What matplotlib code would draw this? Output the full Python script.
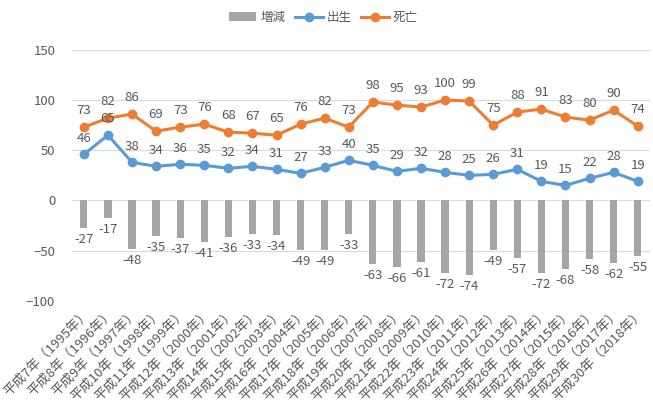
import numpy as np
import matplotlib
matplotlib.use("Agg")
import matplotlib.pyplot as plt

plt.rcParams['font.family'] = ['Noto Sans CJK JP', 'DejaVu Sans']

heisei = list(range(7, 31))
years = list(range(1995, 2019))
categories = [f"平成{h}年（{y}年）" for h, y in zip(heisei, years)]

births = [46, 65, 38, 34, 36, 35, 32, 34, 31, 27, 33, 40,
          35, 29, 32, 28, 25, 26, 31, 19, 15, 22, 28, 19]
deaths = [73, 82, 86, 69, 73, 76, 68, 67, 65, 76, 82, 73,
          98, 95, 93, 100, 99, 75, 88, 91, 83, 80, 90, 74]
change = [-27, -17, -48, -35, -37, -41, -36, -33, -34, -49, -49, -33,
          -63, -66, -61, -72, -74, -49, -57, -72, -68, -58, -62, -55]

BLUE = "#5B9BD5"
ORANGE = "#ED7D31"
GRAY = "#A5A5A5"
TXT = "#595959"


def main():
    fig = plt.figure(figsize=(6.53, 4.19), dpi=100)
    ax = fig.add_axes([0.11, 0.282, 0.885, 0.599])
    x = np.arange(len(categories))

    ax.bar(x, change, width=0.3, color=GRAY, label="増減", zorder=2)
    ax.plot(x, births, color=BLUE, lw=2.2, marker="o", ms=6, label="出生", zorder=3)
    ax.plot(x, deaths, color=ORANGE, lw=2.2, marker="o", ms=6, label="死亡", zorder=3)

    for i in x:
        ax.annotate(str(births[i]), (i, births[i]), xytext=(0, 7), textcoords="offset points",
                    ha="center", va="bottom", fontsize=9.5, color=TXT)
        ax.annotate(str(deaths[i]), (i, deaths[i]), xytext=(0, 7), textcoords="offset points",
                    ha="center", va="bottom", fontsize=9.5, color=TXT)
        ax.annotate(str(change[i]), (i, change[i]), xytext=(0, -4), textcoords="offset points",
                    ha="center", va="top", fontsize=9.5, color=TXT)

    ax.set_xlim(-0.5, len(categories) - 0.5)
    ax.set_ylim(-100, 150)
    ax.set_yticks([-100, -50, 0, 50, 100, 150])
    ax.set_xticks(x)
    ax.set_xticklabels(categories, rotation=45, ha="right", rotation_mode="anchor",
                       fontsize=9.5, color=TXT)
    ax.tick_params(axis="y", labelsize=9.5, labelcolor=TXT, length=0, pad=12)
    ax.tick_params(axis="x", length=0, pad=4)
    ax.grid(axis="y", color="#D9D9D9", lw=0.8, zorder=0)
    for s in ax.spines.values():
        s.set_visible(False)

    handles, labels = ax.get_legend_handles_labels()
    order = [labels.index(n) for n in ["増減", "出生", "死亡"]]
    fig.legend([handles[k] for k in order], [labels[k] for k in order],
               loc="upper center", bbox_to_anchor=(0.495, 1.0), ncol=3, frameon=False,
               fontsize=9, labelcolor=TXT, handlelength=2.2, columnspacing=0.8,
               handletextpad=0.3)

    fig.savefig("out.png", dpi=100)


if __name__ == '__main__':
    main()
